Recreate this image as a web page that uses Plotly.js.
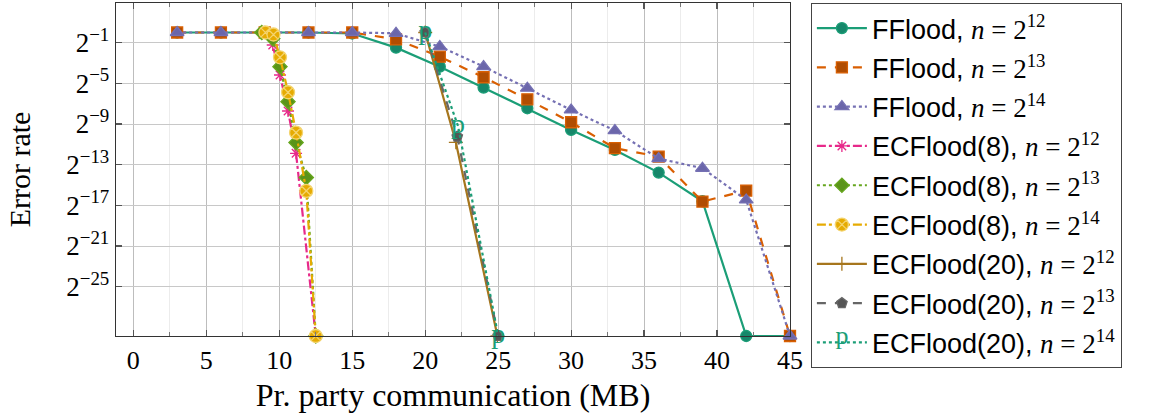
<!DOCTYPE html>
<html><head><meta charset="utf-8">
<script src="https://cdn.plot.ly/plotly-3.0.1.min.js"></script>
<style>html,body{margin:0;padding:0;background:#fff}#chart{width:1153px;height:416px}</style>
</head><body><div id="chart"></div>
<script>
// error rates are stored as log2 values; FLOOR = zero error, drawn on the lower axis edge
const FLOOR = -29.85;
const TOP = 2.9;

const ffloodX   = [3, 6, 9, 12, 15, 18, 21, 24, 27, 30, 33, 36, 39, 42, 45];
const ffloodN12 = [0, 0, 0, 0, -0.1, -1.49, -3.36, -5.42, -7.45, -9.58, -11.55, -13.78, -16.6, FLOOR, FLOOR];
const ffloodN13 = [0, 0, 0, 0, 0, -0.67, -2.38, -4.40, -6.57, -8.83, -11.38, -12.21, -16.63, -15.55, FLOOR];
const ffloodN14 = [0, 0, 0, 0, 0, -0.08, -1.39, -3.36, -5.48, -7.62, -9.65, -12.4, -13.35, -16.47, FLOOR];

const ec8N12X = [9.05, 9.55, 10.05, 10.6, 11.15, 12.5];
const ec8N12  = [0, -1.23, -4.18, -7.72, -11.88, FLOOR];
const ec8N13X = [8.8, 9.55, 10.05, 10.6, 11.15, 11.85, 12.5];
const ec8N13  = [0, -0.6, -3.36, -6.8, -10.83, -14.27, FLOOR];
const ec8N14X = [9.05, 9.6, 10.05, 10.6, 11.15, 11.85, 12.5];
const ec8N14  = [0, -0.2, -2.44, -5.88, -9.85, -15.58, FLOOR];

const ec20N12X = [20, 22.1, 24.95];
const ec20N12  = [0, -10.8, FLOOR];
const ec20N13X = [20, 22.2, 25];
const ec20N13  = [0, -10.24, FLOOR];
const ec20N14X = [20, 22.25, 25];
const ec20N14  = [0, -9.2, FLOOR];

const yTickExp = [-1, -5, -9, -13, -17, -21, -25];
const xTickVals = [0, 5, 10, 15, 20, 25, 30, 35, 40, 45];

const SERIF = 'Liberation Serif';
const SANS = 'Liberation Sans';
const P_COLOR = '#1b9e77';
function rate(a){ return a.map(e => Math.pow(2, e)); }
function lbl(name, p){
  return name + ', <span style="font-family:' + SERIF + '"><i>n</i> = 2<sup>' + p + '</sup></span>';
}
function tr(x, y, name, color, dash, sym, fill, size, lineColor, extra){
  const t = {
    x: x, y: rate(y), name: name, type: 'scatter', mode: 'lines+markers', cliponaxis: false,
    line: {color: color, width: 2.2, dash: dash},
    marker: {symbol: sym, size: size, color: fill, line: {color: lineColor || color, width: 1.3}},
    legendgroup: name
  };
  return Object.assign(t, extra || {});
}

const traces = [
  tr(ffloodX, ffloodN12, lbl('FFlood', 12), '#1b9e77', 'solid', 'circle', '#16876a', 11),
  tr(ffloodX, ffloodN13, lbl('FFlood', 13), '#d95f02', 'dash', 'square', '#b04d02', 11),
  tr(ffloodX, ffloodN14, lbl('FFlood', 14), '#7570b3', 'dot', 'triangle-up', '#6b66aa', 12),
  tr(ec8N12X, ec8N12, lbl('ECFlood(8)', 12), '#e7298a', 'dashdot', 'asterisk-open', '#e7298a', 10),
  tr(ec8N13X, ec8N13, lbl('ECFlood(8)', 13), '#66a61e', 'dot', 'diamond', '#5a9419', 11),
  tr(ec8N14X, ec8N14, lbl('ECFlood(8)', 14), '#e6ab02', 'dashdot', 'circle-x', '#e6ab02', 13, '#f4d46e'),
  tr(ec20N12X, ec20N12, lbl('ECFlood(20)', 12), '#a6761d', 'solid', 'cross-thin-open', '#a6761d', 10),
  tr(ec20N13X, ec20N13, lbl('ECFlood(20)', 13), '#666666', 'dash', 'pentagon', '#555555', 11),
  tr(ec20N14X, ec20N14, lbl('ECFlood(20)', 14), P_COLOR, 'dot', 'circle', P_COLOR, 1, null,
     {mode: 'lines+text', text: ec20N14X.map(() => 'p'), textposition: 'middle center',
      textfont: {family: SERIF, size: 28, color: P_COLOR}})
];

const layout = {
  width: 1153, height: 416,
  margin: {l: 116, r: 363, t: 3, b: 80, pad: 0},
  paper_bgcolor: '#fff', plot_bgcolor: '#fff',
  showlegend: true,
  font: {family: SERIF, color: '#000', size: 26},
  xaxis: {
    range: [-1.19, 45], tickvals: xTickVals, ticktext: xTickVals.map(String),
    showgrid: true, gridcolor: '#bdbdbd', gridwidth: 1,
    ticks: 'inside', ticklen: 6, tickwidth: 1.2, tickcolor: '#555',
    minor: {dtick: 2.5, tick0: 0, showgrid: true, gridcolor: '#ececec', ticks: 'inside', ticklen: 4, tickcolor: '#777'},
    showline: true, linecolor: '#333', linewidth: 1.3, mirror: 'ticks', zeroline: false,
    tickfont: {family: SERIF, size: 26},
    title: {text: 'Pr. party communication (MB)', font: {family: SERIF, size: 32}, standoff: 10}
  },
  yaxis: {
    type: 'log', range: [FLOOR * Math.LOG10E * Math.LN2, TOP * Math.LOG10E * Math.LN2],
    tickvals: rate(yTickExp), ticktext: yTickExp.map(e => '2<sup>\u2212' + Math.abs(e) + '</sup>'),
    showgrid: true, gridcolor: '#c8c8c8', gridwidth: 1,
    ticks: 'inside', ticklen: 6, tickwidth: 1.2, tickcolor: '#555',
    showline: true, linecolor: '#333', linewidth: 1.3, mirror: 'ticks', zeroline: false,
    tickfont: {family: SERIF, size: 27},
    title: {text: 'Error rate', font: {family: SERIF, size: 30}, standoff: 26}
  },
  legend: {
    x: 1.031, xanchor: 'left', y: 1.0, yanchor: 'top', maxheight: 416,
    bordercolor: '#444', borderwidth: 1, bgcolor: '#fff',
    font: {family: SANS, size: 27, color: '#000'},
    traceorder: 'grouped', tracegroupgap: 1.2, itemwidth: 50
  }
};

Plotly.newPlot('chart', traces, layout, {displayModeBar: false, staticPlot: true}).then(function(){
  const NS = 'http://www.w3.org/2000/svg';
  // centre the "p" text marks vertically on their points (the glyph has a descender)
  const traceGroups = document.querySelectorAll('#chart .scatterlayer .trace');
  const pTrace = traceGroups[traceGroups.length - 1];
  if (pTrace) {
    pTrace.querySelectorAll('.textpoint').forEach(function(g){ g.setAttribute('transform', 'translate(0,7)'); });
  }
  // draw the "p" mark in the legend symbol of the last entry
  const items = document.querySelectorAll('#chart .legend .traces');
  const last = items[items.length - 1];
  if (last) {
    const path = last.querySelector('.legendlines path') || last.querySelector('.legendpoints path');
    const host = last.querySelector('.legendpoints') || last;
    let cx = 20;
    if (path) { const b = path.getBBox(); cx = b.x + b.width / 2; }
    const t = document.createElementNS(NS, 'text');
    t.setAttribute('x', cx);
    t.setAttribute('y', 2);
    t.setAttribute('text-anchor', 'middle');
    t.setAttribute('style', 'font-family:' + SERIF + ';font-size:26px;fill:' + P_COLOR);
    t.textContent = 'p';
    host.appendChild(t);
  }
});
</script>
</body></html>
